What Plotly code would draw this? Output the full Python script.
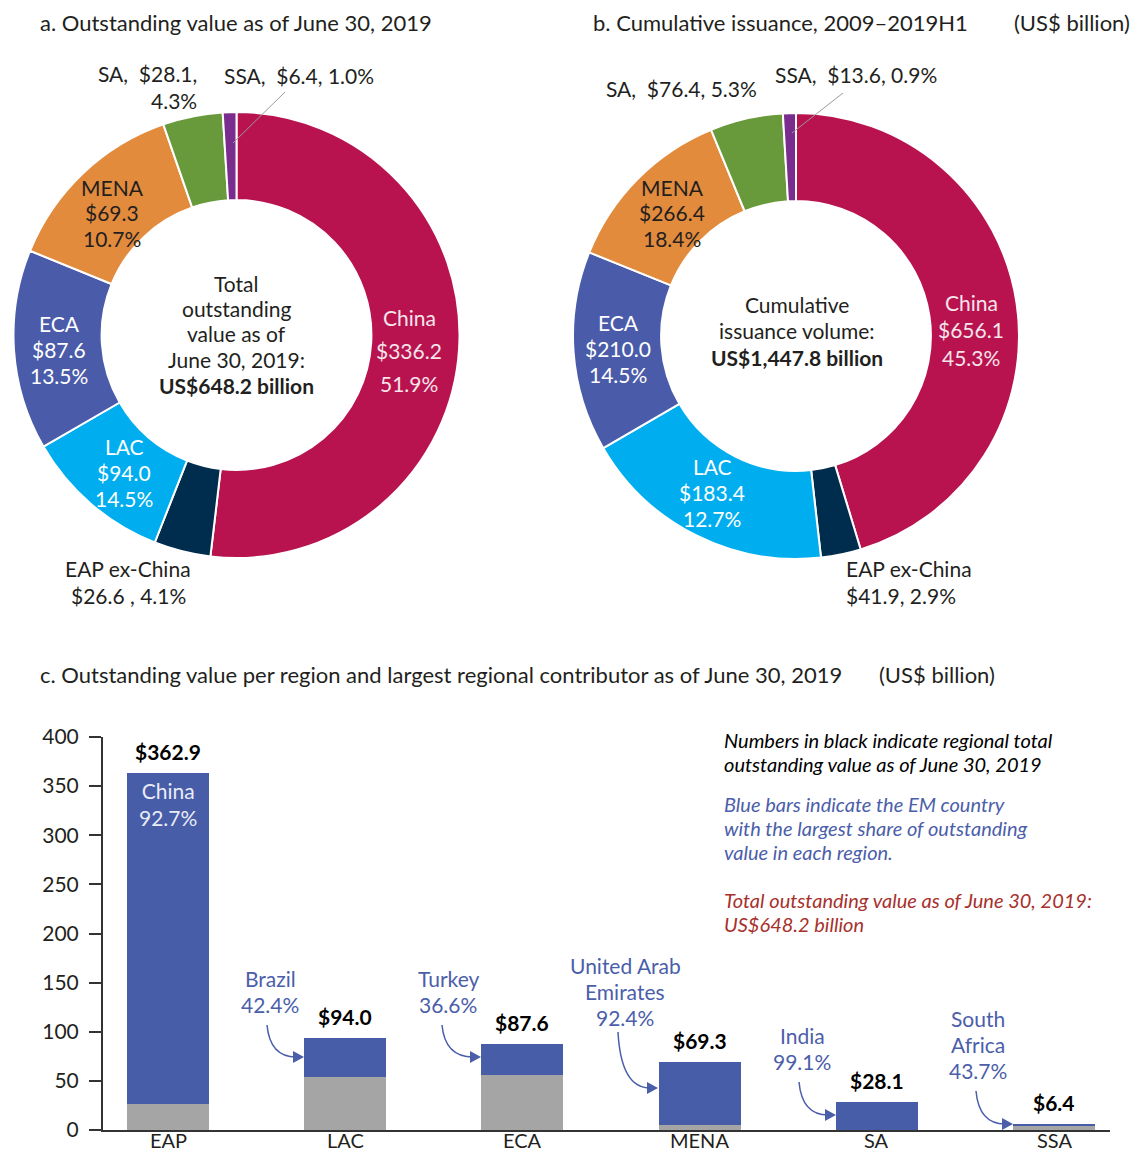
import plotly.graph_objects as go

# ---- data ----
regions = ["China", "EAP ex-China", "LAC", "ECA", "MENA", "SA", "SSA"]
outstanding = [336.2, 26.6, 94.0, 87.6, 69.3, 28.1, 6.4]
issuance = [656.1, 41.9, 183.4, 210.0, 266.4, 76.4, 13.6]

# wedges as they are drawn in the reference, clockwise from 12 o'clock
# (the source's cyan/blue/orange wedges do not follow their own labels)
wedges_a = [336.2, 26.6, 69.3, 94.0, 87.6, 28.1, 6.4]
wedges_b = [656.1, 41.9, 266.4, 210.0, 183.4, 76.4, 13.6]

bar_regions = ["EAP", "LAC", "ECA", "MENA", "SA", "SSA"]
bar_totals = [362.9, 94.0, 87.6, 69.3, 28.1, 6.4]
top_country = ["China", "Brazil", "Turkey", "United Arab<br>Emirates", "India", "South<br>Africa"]
top_share = [92.7, 42.4, 36.6, 92.4, 99.1, 43.7]
y_ticks = [0, 50, 100, 150, 200, 250, 300, 350, 400]

slice_colors = ["#B8134F", "#002D4E", "#00AEEF", "#4A5CA9", "#E38B3C", "#689A3B", "#7B2C8F"]
BLUE = "#475DA8"
GRAY = "#A5A5A5"
TEXT = "#231F20"
FONT = "Lato, 'Open Sans', sans-serif"

W, H = 1134, 1153


def px(x):
    return x / W


def py(y):
    return 1 - y / H


fig = go.Figure()
annotations = []
shapes = []


def add_text(x, y, text, size=21, color=TEXT, anchor="center"):
    annotations.append(dict(
        x=px(x), y=py(y), xref="paper", yref="paper", text=text, showarrow=False,
        xanchor=anchor, yanchor="middle", font=dict(family=FONT, size=size, color=color)))


def add_lines(x, y0, lines, step=26, **kw):
    for i, line in enumerate(lines):
        add_text(x, y0 + i * step, line, **kw)


def pie_label(vals, i):
    total = sum(vals)
    return regions[i], f"${vals[i]:.1f}", f"{vals[i] / total * 100:.1f}%"


# ---- donuts ----
for vals, dom in [(wedges_a, ([13, 460], [558, 112])), (wedges_b, ([573, 1019], [559, 113]))]:
    fig.add_trace(go.Pie(
        values=vals, sort=False, direction="clockwise", rotation=0,
        hole=0.605, textinfo="none", showlegend=False, hoverinfo="value+percent",
        marker=dict(colors=slice_colors, line=dict(color="white", width=2)),
        domain=dict(x=[px(dom[0][0]), px(dom[0][1])], y=[py(dom[1][0]), py(dom[1][1])]),
    ))

# panel titles
add_text(38, 22, "a. Outstanding value as of June 30, 2019", size=22, anchor="left")
add_text(591, 22, "b. Cumulative issuance, 2009–2019H1", size=22, anchor="left")
add_text(1132, 22, "(US$ billion)", size=22, anchor="right")

# donut a labels
n, v, p = pie_label(outstanding, 0)
add_lines(409, 317, [n, v, p], step=33, color="#F6E4EB")
add_lines(124, 446, list(pie_label(outstanding, 2)), color="white")
add_lines(59, 323, list(pie_label(outstanding, 3)), color="white")
add_lines(112, 187, list(pie_label(outstanding, 4)))
n, v, p = pie_label(outstanding, 1)
add_lines(128, 569, [n, f"{v} , {p}"])
n, v, p = pie_label(outstanding, 5)
add_lines(199, 73, [f"{n},  {v},", p], step=27, anchor="right")
n, v, p = pie_label(outstanding, 6)
add_text(222, 76, f"{n},  {v}, {p}", anchor="left")
add_lines(236, 283, ["Total", "outstanding", "value as of", "June 30, 2019:",
                     f"<b>US${sum(outstanding):,.1f} billion</b>"], step=25.5)

# donut b labels
add_lines(971, 303, list(pie_label(issuance, 0)), step=27, color="#F6E4EB")
add_lines(712, 466, list(pie_label(issuance, 2)), color="white")
add_lines(618, 322, list(pie_label(issuance, 3)), color="white")
add_lines(672, 187, list(pie_label(issuance, 4)))
n, v, p = pie_label(issuance, 1)
add_lines(844, 569, [n, f"{v}, {p}"], anchor="left")
n, v, p = pie_label(issuance, 5)
add_text(759, 88, f"{n},  {v}, {p}", anchor="right")
n, v, p = pie_label(issuance, 6)
add_text(773, 75, f"{n},  {v}, {p}", anchor="left")
add_lines(797, 305, ["Cumulative", "issuance volume:",
                     f"<b>US${sum(issuance):,.1f} billion</b>"], step=26)

# leader lines to the SSA slivers
for x0, y0, x1, y1 in [(285, 92, 233, 143), (843, 93, 792, 133)]:
    shapes.append(dict(type="line", xref="paper", yref="paper", x0=px(x0), y0=py(y0),
                       x1=px(x1), y1=py(y1), line=dict(color="#9A9A9A", width=1)))

# ---- stacked bars ----
blue_part = [t * s / 100 for t, s in zip(bar_totals, top_share)]
gray_part = [t - b for t, b in zip(bar_totals, blue_part)]

fig.add_trace(go.Bar(x=bar_regions, y=gray_part, marker=dict(color=GRAY, line=dict(width=0)),
                     showlegend=False, xaxis="x", yaxis="y"))
fig.add_trace(go.Bar(x=bar_regions, y=blue_part, marker=dict(color=BLUE, line=dict(width=0)),
                     showlegend=False, xaxis="x", yaxis="y"))

add_text(38, 674, "c. Outstanding value per region and largest regional contributor as of June 30, 2019",
         size=22, anchor="left")
add_text(877, 674, "(US$ billion)", size=22, anchor="left")

for reg, tot in zip(bar_regions, bar_totals):
    # regional totals above the bars
    annotations.append(dict(x=reg, y=tot, xref="x", yref="y", text=f"<b>${tot:.1f}</b>",
                            showarrow=False, yanchor="bottom", yshift=7,
                            font=dict(family=FONT, size=21, color="black")))
    # category names under the axis
    annotations.append(dict(x=reg, y=0, xref="x", yref="y", text=reg, showarrow=False,
                            yanchor="middle", yshift=-10, font=dict(family=FONT, size=20, color=TEXT)))

# China label inside the EAP bar
annotations.append(dict(x=bar_regions[0], y=bar_totals[0], xref="x", yref="y",
                        text=f"{top_country[0]}<br>{top_share[0]:.1f}%", showarrow=False,
                        yanchor="top", yshift=-3, font=dict(family=FONT, size=21, color="#E9ECF7")))

# other country labels with curved arrows
label_pos = [(270, 978), (448, 978), (625, 965), (802, 1035), (978, 1018)]
arrows = [
    ((267, 1025), (270, 1057), (304, 1057)),
    ((442, 1025), (445, 1057), (481, 1057)),
    ((618, 1032), (621, 1088), (658, 1088)),
    ((799, 1082), (802, 1115), (836, 1115)),
    ((976, 1091), (979, 1124), (1013, 1124)),
]
for i, (lx, ly) in enumerate(label_pos):
    lines = top_country[i + 1].split("<br>") + [f"{top_share[i + 1]:.1f}%"]
    add_lines(lx, ly, lines, color="#4B5EAA")
    (sx, sy), (cx, cy), (ex, ey) = arrows[i]
    shapes.append(dict(type="path", xref="paper", yref="paper",
                       path=f"M {px(sx)},{py(sy)} Q {px(cx)},{py(cy)} {px(ex - 8)},{py(ey)}",
                       line=dict(color="#4B5EAA", width=1.5)))
    shapes.append(dict(type="path", xref="paper", yref="paper",
                       path=f"M {px(ex - 11)},{py(ey - 6)} L {px(ex)},{py(ey)} L {px(ex - 11)},{py(ey + 6)} Z",
                       fillcolor="#4B5EAA", line=dict(width=0)))

# notes on the right
add_lines(722, 740, ["<i>Numbers in black indicate regional total</i>",
                     "<i>outstanding value as of June 30, 2019</i>"], step=24, size=20,
          color="black", anchor="left")
add_lines(722, 804, ["<i>Blue bars indicate the EM country</i>",
                     "<i>with the largest share of outstanding</i>",
                     "<i>value in each region.</i>"], step=24, size=20, color="#4B5EAA", anchor="left")
add_lines(722, 900, ["<i>Total outstanding value as of June 30, 2019:</i>",
                     f"<i>US${sum(outstanding):,.1f} billion</i>"], step=24, size=20,
          color="#A8302B", anchor="left")

fig.update_layout(
    width=W, height=H, margin=dict(l=0, r=0, t=0, b=0),
    paper_bgcolor="white", plot_bgcolor="white",
    font=dict(family=FONT, size=21, color=TEXT),
    barmode="stack", bargap=0.537,
    xaxis=dict(domain=[px(103), px(1110)], type="category", range=[-0.367, 5.316],
               showline=True, linecolor="#333", linewidth=2, ticks="", showgrid=False,
               zeroline=False, showticklabels=False, automargin=False, fixedrange=True),
    yaxis=dict(domain=[py(1130), py(737)], range=[0, 400], tickvals=y_ticks,
               showline=True, linecolor="#333", linewidth=2, ticks="outside", ticklen=12,
               tickwidth=2, tickcolor="#333", showgrid=False, zeroline=False,
               ticklabelstandoff=6, tickfont=dict(size=21, color=TEXT), automargin=False,
               fixedrange=True),
    annotations=annotations, shapes=shapes,
)

fig.write_html("out.html", config={"displayModeBar": False},
               post_script="document.body.style.margin='0';document.body.style.overflow='hidden';")
